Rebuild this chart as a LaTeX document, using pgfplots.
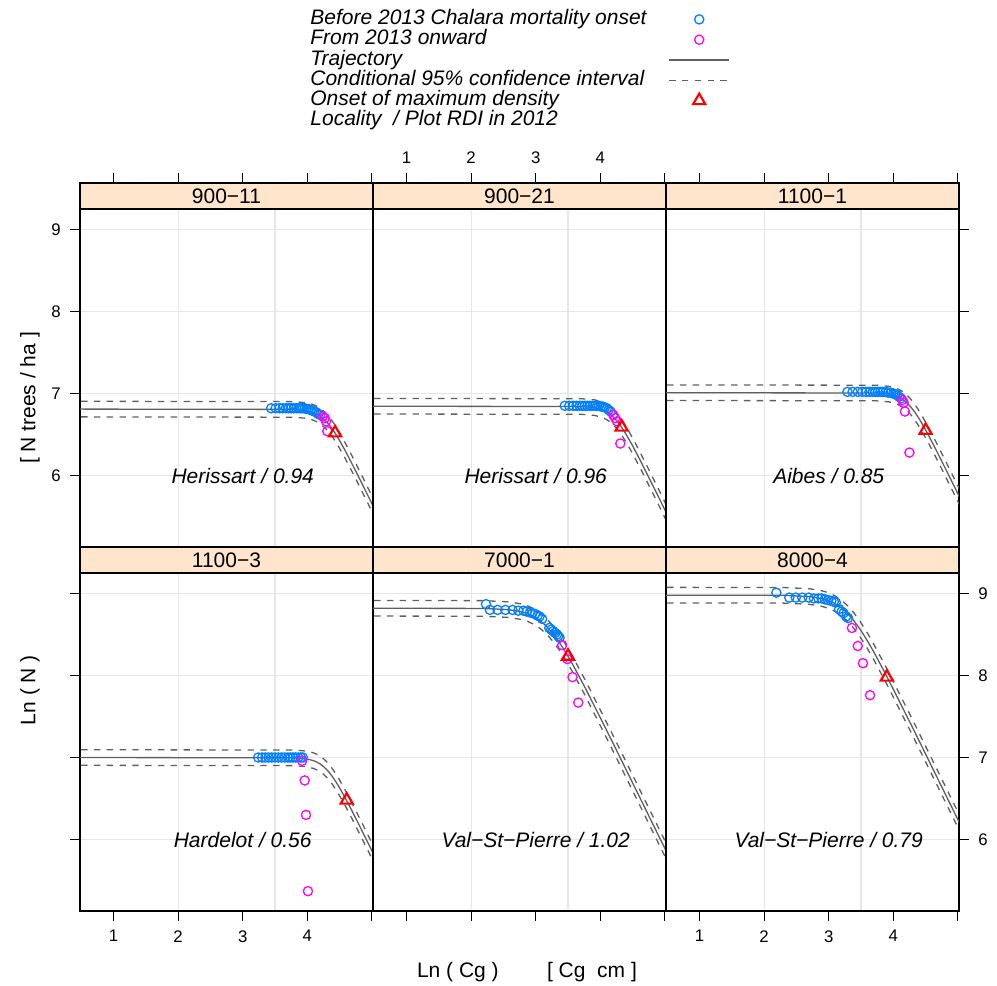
\documentclass[border=0pt]{standalone}
\usepackage{fontspec}
\setmainfont{Liberation Sans}
\usepackage{pgfplots}
\pgfplotsset{compat=1.18}
\usepackage{pgfplotstable}
\usepgfplotslibrary{groupplots}

\definecolor{ptblue}{HTML}{0080FF}
\definecolor{ptmag}{HTML}{FF00FF}
\definecolor{trajgray}{HTML}{5F5F5F}
\definecolor{stripbg}{HTML}{FFE5CC}
\definecolor{gridgray}{HTML}{E6E6E6}

% fitted trajectory and 95% band, one table per plot
\pgfplotstableread{
x y lo hi
0.30 6.810 6.715 6.905
3.78 6.806 6.711 6.901
3.98 6.793 6.698 6.888
4.08 6.773 6.678 6.868
4.13 6.757 6.662 6.852
4.18 6.736 6.641 6.831
4.23 6.707 6.612 6.802
4.28 6.671 6.576 6.766
4.33 6.627 6.532 6.722
4.38 6.576 6.481 6.671
4.43 6.517 6.422 6.612
4.48 6.453 6.358 6.548
4.58 6.313 6.218 6.408
4.68 6.162 6.067 6.257
4.78 6.006 5.911 6.101
4.98 5.689 5.594 5.784
5.28 5.210 5.115 5.305
}\trajA
\pgfplotstableread{
x y lo hi
0.30 6.845 6.750 6.940
3.71 6.841 6.746 6.936
3.91 6.828 6.733 6.923
4.01 6.808 6.713 6.903
4.06 6.792 6.697 6.887
4.11 6.771 6.676 6.866
4.16 6.742 6.647 6.837
4.21 6.706 6.611 6.801
4.26 6.662 6.567 6.757
4.31 6.611 6.516 6.706
4.36 6.552 6.457 6.647
4.41 6.488 6.393 6.583
4.51 6.348 6.253 6.443
4.61 6.197 6.102 6.292
4.71 6.041 5.946 6.136
4.91 5.724 5.629 5.819
5.21 5.245 5.150 5.340
}\trajB
\pgfplotstableread{
x y lo hi
0.30 7.010 6.915 7.105
3.73 7.006 6.911 7.101
3.93 6.993 6.898 7.088
4.03 6.973 6.878 7.068
4.08 6.957 6.862 7.052
4.13 6.936 6.841 7.031
4.18 6.907 6.812 7.002
4.23 6.871 6.776 6.966
4.28 6.827 6.732 6.922
4.33 6.776 6.681 6.871
4.38 6.717 6.622 6.812
4.43 6.653 6.558 6.748
4.53 6.513 6.418 6.608
4.63 6.362 6.267 6.457
4.73 6.206 6.111 6.301
4.93 5.889 5.794 5.984
5.23 5.410 5.315 5.505
}\trajC
\pgfplotstableread{
x y lo hi
0.30 7.000 6.905 7.095
3.79 6.996 6.901 7.091
3.99 6.983 6.888 7.078
4.09 6.963 6.868 7.058
4.14 6.947 6.852 7.042
4.19 6.926 6.831 7.021
4.24 6.897 6.802 6.992
4.29 6.861 6.766 6.956
4.34 6.817 6.722 6.912
4.39 6.766 6.671 6.861
4.44 6.707 6.612 6.802
4.49 6.643 6.548 6.738
4.59 6.503 6.408 6.598
4.69 6.352 6.257 6.447
4.79 6.196 6.101 6.291
4.99 5.879 5.784 5.974
5.29 5.400 5.305 5.495
}\trajD
\pgfplotstableread{
x y lo hi
0.30 8.820 8.725 8.915
2.17 8.818 8.723 8.913
2.57 8.804 8.709 8.899
2.77 8.779 8.684 8.874
2.87 8.756 8.661 8.851
2.97 8.720 8.625 8.815
3.07 8.668 8.573 8.763
3.17 8.598 8.503 8.693
3.27 8.508 8.413 8.603
3.37 8.400 8.305 8.495
3.47 8.275 8.180 8.370
3.57 8.139 8.044 8.234
3.77 7.844 7.749 7.939
4.17 7.218 7.123 7.313
5.17 5.618 5.523 5.713
}\trajE
\pgfplotstableread{
x y lo hi
0.30 8.980 8.885 9.075
2.29 8.978 8.883 9.073
2.69 8.964 8.869 9.059
2.89 8.939 8.844 9.034
2.99 8.916 8.821 9.011
3.09 8.880 8.785 8.975
3.19 8.828 8.733 8.923
3.29 8.758 8.663 8.853
3.39 8.668 8.573 8.763
3.49 8.560 8.465 8.655
3.59 8.435 8.340 8.530
3.69 8.299 8.204 8.394
3.89 8.004 7.909 8.099
4.29 7.378 7.283 7.473
5.29 5.778 5.683 5.873
}\trajF

\pgfplotsset{
  before/.style={only marks, mark=o, mark size=2.3pt, color=ptblue, mark options={line width=0.65pt}},
  after/.style={only marks, mark=o, mark size=2.3pt, color=ptmag, mark options={line width=0.65pt}},
  traj/.style={no marks, color=trajgray, line width=0.65pt},
  band/.style={no marks, color=trajgray, line width=0.65pt, dash pattern=on 3.2pt off 3.2pt},
  onset/.style={only marks, mark=triangle, mark size=3.5pt, color=red, mark options={line width=1.1pt}},
}

\newcommand{\strip}[1]{%
  \filldraw[fill=stripbg, draw=black, line width=0.55pt] (rel axis cs:0,0.9286) rectangle (rel axis cs:1,1);
  \node[font=\fontsize{10.5}{12}\selectfont] at (rel axis cs:0.5,0.9643) {#1};}
\newcommand{\panellabel}[1]{%
  \node[font=\itshape\fontsize{10.5}{12}\selectfont] at (axis cs:3,6) {#1};}
\newcommand{\trajectory}[1]{%
  \addplot[band, forget plot] table[x=x, y=hi] {#1};
  \addplot[band, forget plot] table[x=x, y=lo] {#1};
  \addplot[traj, forget plot] table[x=x, y=y] {#1};}

\begin{document}
\begin{tikzpicture}[font=\fontsize{10.5}{12.6}\selectfont]
\begin{groupplot}[
  group style={group size=3 by 2, horizontal sep=0pt, vertical sep=0pt, group name=g},
  width=146.5pt, height=182pt, scale only axis,
  xmin=0.481, xmax=5.017, ymin=5.128, ymax=9.567,
  axis line style={black, line width=0.55pt},
  tick align=outside, major tick length=5pt,
  tick style={black, line width=0.55pt},
  xtick={1,2,3,4,5}, xticklabels={1,2,3,4,},
  ytick={6,7,8,9},
  minor xtick={2,3.5}, minor ytick={6,7,8,9},
  xminorgrids=true, yminorgrids=true,
  minor grid style={gridgray, line width=0.55pt},
  minor tick length=0pt,
  tick label style={font=\fontsize{8.4}{10}\selectfont, inner sep=0pt},
  /pgf/number format/assume math mode=true,
  xticklabel shift=4.5pt, yticklabel shift=4.5pt,
  clip mode=individual,
]
% ---- 900-11
\nextgroupplot[xtick pos=upper, xticklabel=\empty, ytick pos=left,
  legend style={at={(axis description cs:0.785,1.478)}, anchor=north west,
    draw=none, fill=none, inner sep=0pt, row sep=0.15pt, column sep=11pt,
    font=\itshape\fontsize{10.5}{12}\selectfont,
    nodes={inner sep=0pt, text height=7.5pt, text depth=2.5pt}},
  legend plot pos=right, legend cell align=left,
  legend image code/.code={\draw[mark repeat=2, mark phase=2, #1] plot coordinates {(0pt,0pt) (15pt,0pt) (30pt,0pt)};}]
\trajectory{\trajA}
\addplot[before, forget plot] coordinates {(3.44,6.82)(3.51,6.82)(3.57,6.82)(3.62,6.82)(3.67,6.82)(3.71,6.82)(3.75,6.82)(3.79,6.82)(3.83,6.82)(3.87,6.82)(3.90,6.82)(3.93,6.82)(3.96,6.82)(3.99,6.81)(4.02,6.81)(4.05,6.80)(4.08,6.79)(4.11,6.78)(4.14,6.77)(4.17,6.75)(4.20,6.74)};
\addplot[after, forget plot] coordinates {(4.24,6.72)(4.27,6.70)(4.29,6.66)(4.31,6.54)};
\addplot[onset, forget plot] coordinates {(4.43,6.52)};
\addlegendimage{before}
\addlegendentry{Before 2013 Chalara mortality onset}
\addlegendimage{after}
\addlegendentry{From 2013 onward}
\addlegendimage{traj}
\addlegendentry{Trajectory}
\addlegendimage{band}
\addlegendentry{Conditional 95\% confidence interval}
\addlegendimage{onset}
\addlegendentry{Onset of maximum density}
\addlegendimage{empty legend}
\addlegendentry{Locality\ \ / Plot RDI in 2012}
\strip{900−11}
\panellabel{Herissart / 0.94}
% ---- 900-21
\nextgroupplot[xtick pos=upper, ytick style={draw=none}, yticklabel=\empty]
\trajectory{\trajB}
\addplot[before] coordinates {(3.45,6.85)(3.52,6.85)(3.58,6.85)(3.63,6.85)(3.68,6.85)(3.72,6.85)(3.76,6.85)(3.80,6.85)(3.84,6.85)(3.88,6.85)(3.92,6.85)(3.95,6.85)(3.98,6.85)(4.01,6.84)(4.04,6.84)(4.07,6.83)(4.10,6.82)(4.13,6.80)(4.16,6.78)};
\addplot[after] coordinates {(4.20,6.74)(4.23,6.70)(4.26,6.66)(4.31,6.39)};
\addplot[onset] coordinates {(4.33,6.59)};
\strip{900−21}
\panellabel{Herissart / 0.96}
% ---- 1100-1
\nextgroupplot[xtick pos=upper, xticklabel=\empty, ytick pos=right, yticklabel=\empty]
\trajectory{\trajC}
\addplot[before] coordinates {(3.29,7.02)(3.37,7.02)(3.45,7.02)(3.52,7.02)(3.58,7.02)(3.63,7.02)(3.68,7.02)(3.72,7.02)(3.76,7.02)(3.80,7.02)(3.84,7.02)(3.88,7.02)(3.92,7.01)(3.96,7.01)(4.00,7.00)(4.03,6.99)(4.06,6.98)(4.09,6.96)(4.12,6.94)};
\addplot[after] coordinates {(4.14,6.92)(4.16,6.89)(4.18,6.78)(4.25,6.28)};
\addplot[onset] coordinates {(4.50,6.55)};
\strip{1100−1}
\panellabel{Aibes / 0.85}
% ---- 1100-3
\nextgroupplot[xtick pos=lower, ytick pos=left, yticklabel=\empty]
\trajectory{\trajD}
\addplot[before] coordinates {(3.24,7.0)(3.30,7.0)(3.35,7.0)(3.40,7.0)(3.45,7.0)(3.50,7.0)(3.55,7.0)(3.60,7.0)(3.65,7.0)(3.70,7.0)(3.74,7.0)(3.78,7.0)(3.82,7.0)(3.86,7.0)(3.90,7.0)(3.93,7.0)};
\addplot[after] coordinates {(3.92,6.96)(3.96,6.72)(3.98,6.30)(4.01,5.37)};
\addplot[onset] coordinates {(4.61,6.48)};
\strip{1100−3}
\panellabel{Hardelot / 0.56}
% ---- 7000-1
\nextgroupplot[xtick pos=lower, xticklabel=\empty, ytick style={draw=none}, yticklabel=\empty]
\trajectory{\trajE}
\addplot[before] coordinates {(2.23,8.87)(2.29,8.80)(2.41,8.80)(2.53,8.80)(2.64,8.80)(2.73,8.79)(2.81,8.79)(2.86,8.78)(2.91,8.77)(2.95,8.76)(2.99,8.75)(3.03,8.73)(3.06,8.72)(3.10,8.69)(3.21,8.58)(3.24,8.56)(3.27,8.54)(3.30,8.52)(3.33,8.50)(3.35,8.48)(3.37,8.46)};
\addplot[after] coordinates {(3.41,8.37)(3.49,8.20)(3.57,7.98)(3.66,7.67)};
\addplot[onset] coordinates {(3.50,8.235)};
\strip{7000−1}
\panellabel{Val−St−Pierre / 1.02}
% ---- 8000-4
\nextgroupplot[xtick pos=lower, ytick pos=right]
\trajectory{\trajF}
\addplot[before] coordinates {(2.19,9.01)(2.39,8.95)(2.49,8.95)(2.59,8.95)(2.69,8.95)(2.77,8.94)(2.84,8.94)(2.89,8.94)(2.94,8.93)(2.99,8.92)(3.04,8.91)(3.08,8.90)(3.11,8.89)(3.16,8.81)(3.20,8.78)(3.23,8.76)(3.27,8.72)(3.30,8.70)};
\addplot[after] coordinates {(3.36,8.58)(3.45,8.36)(3.53,8.15)(3.64,7.76)};
\addplot[onset] coordinates {(3.90,7.98)};
\strip{8000−4}
\panellabel{Val−St−Pierre / 0.79}
\end{groupplot}
\begin{scope}[shift={(g c1r1.north west)}, x=0.5pt, y=-0.5pt]
\node[anchor=base west] at (330,794) {Ln ( Cg )};
\node[anchor=base west] at (460,794) {[ Cg\ \ cm ]};
\node[rotate=90] at (-50,507) {Ln ( N )};
\node[rotate=90] at (-50,215) {[ N trees / ha ]};
\pgfresetboundingbox
\path[use as bounding box] (-80,-183) rectangle (917,803);
\end{scope}
\end{tikzpicture}
\end{document}
